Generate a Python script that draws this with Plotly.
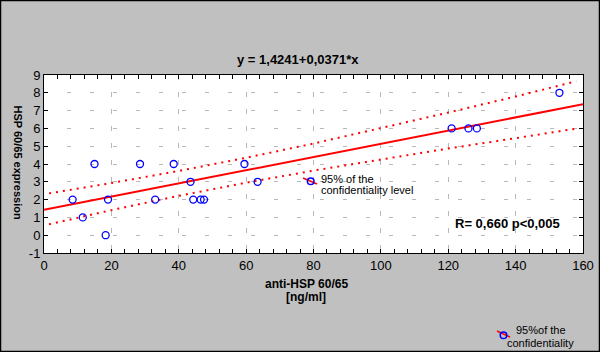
import plotly.graph_objects as go

# Data
anti_hsp = [8.5, 11.5, 15, 18.3, 19, 28.5, 33, 38.5, 43.5, 44.3, 46.5, 47.5,
            59.5, 63.4, 121, 126, 128.5, 153]
hsp_expr = [2, 1, 4, 0, 2, 4, 2, 4, 3, 2, 2, 2, 4, 3, 6, 6, 6, 8]

intercept = 1.4241
slope = 0.0371
fit_x = [0, 160]

ci_x = [1.5, 20, 40, 60, 80, 100, 120, 140, 158]
ci_upper = [2.35, 2.93, 3.61, 4.35, 5.15, 6.00, 6.89, 7.79, 8.65]
ci_lower = [0.61, 1.41, 2.21, 2.95, 3.63, 4.27, 4.87, 5.45, 5.99]

x_ticks = [0, 20, 40, 60, 80, 100, 120, 140, 160]
y_ticks = [-1, 0, 1, 2, 3, 4, 5, 6, 7, 8, 9]

W, H = 600, 352
L, R, T, B = 44, 17, 75, 99
PW, PH = W - L - R, H - T - B

def px(x):
    return (x - L) / PW

def py(y):
    return (H - B - y) / PH

fig = go.Figure()

fig.add_trace(go.Scatter(
    x=ci_x, y=ci_upper, mode="lines",
    line=dict(color="#FF0000", width=2, dash="2px,5px"),
    hoverinfo="skip", showlegend=False))
fig.add_trace(go.Scatter(
    x=ci_x, y=ci_lower, mode="lines",
    line=dict(color="#FF0000", width=2, dash="2px,5px"),
    hoverinfo="skip", showlegend=False))
fig.add_trace(go.Scatter(
    x=fit_x, y=[intercept + slope * v for v in fit_x], mode="lines",
    line=dict(color="#FF0000", width=2),
    showlegend=False))
fig.add_trace(go.Scatter(
    x=anti_hsp, y=hsp_expr, mode="markers",
    marker=dict(symbol="circle-open", size=7, color="#0000FF",
                line=dict(width=1.3, color="#0000FF")),
    showlegend=False))

font = "Liberation Sans, Arial, sans-serif"

fig.update_layout(
    width=W, height=H,
    margin=dict(l=L, r=R, t=T, b=B, pad=0, autoexpand=False),
    paper_bgcolor="#C0C0C0",
    plot_bgcolor="#FFFFFF",
    font=dict(family=font, size=13, color="#000000"),
    xaxis=dict(
        range=[0, 160], tickvals=x_ticks, ticktext=[str(v) for v in x_ticks],
        automargin=False,
        showline=True, linecolor="#000000", linewidth=1, mirror="ticks",
        ticks="inside", ticklen=4, tickcolor="#000000",
        minor=dict(dtick=4, ticks="inside", ticklen=4, tickcolor="#000000",
                   showgrid=False),
        showgrid=True, gridcolor="#B8B8B8", griddash="5px,12px", gridwidth=1,
        zeroline=False, tickfont=dict(size=13),
    ),
    yaxis=dict(
        range=[-1, 9], tickvals=y_ticks, ticktext=[str(v) for v in y_ticks],
        automargin=False,
        showline=True, linecolor="#000000", linewidth=1, mirror="ticks",
        ticks="inside", ticklen=4, tickcolor="#000000",
        showgrid=True, gridcolor="#B8B8B8", griddash="4px,19px", gridwidth=1,
        zeroline=False, tickfont=dict(size=13),
    ),
)

ann = [
    dict(text="<b>y = 1,4241+0,0371*x</b>", x=px(298), y=py(60), size=13),
    dict(text="<b>R= 0,660 p&lt;0,005</b>", x=px(507), y=py(223), size=13),
    dict(text="<b>anti-HSP 60/65</b>", x=px(306), y=py(284), size=12),
    dict(text="<b>[ng/ml]</b>", x=px(306), y=py(297), size=12),
]
for a in ann:
    fig.add_annotation(text=a["text"], x=a["x"], y=a["y"], xref="paper",
                       yref="paper", showarrow=False, xanchor="center",
                       yanchor="middle", font=dict(size=a["size"], family=font))

fig.add_annotation(text="<b>HSP 60/65 expression</b>", x=px(17.5), y=py(162),
                   xref="paper", yref="paper", showarrow=False, textangle=90,
                   xanchor="center", yanchor="middle",
                   font=dict(size=11, family=font))

notes = [
    ("95% of the", 319, 178.5),
    ("confidentiality level", 319, 190),
    ("95%of the", 514, 330),
    ("confidentiality", 505, 343),
]
for t, x0, y0 in notes:
    fig.add_annotation(text=t, x=px(x0), y=py(y0), xref="paper", yref="paper",
                       showarrow=False, xanchor="left", yanchor="middle",
                       font=dict(size=11, family=font))

# legend-like symbols (red line + blue circle)
for (x1, y1, x2, y2, cx, cy) in [(303, 178, 317, 184, 310.7, 181.3),
                                 (497, 331, 510, 337, 503.5, 335.3)]:
    fig.add_shape(type="line", xref="paper", yref="paper",
                  x0=px(x1), y0=py(y1), x1=px(x2), y1=py(y2),
                  line=dict(color="#FF0000", width=1.5))
    r = 3.3
    fig.add_shape(type="circle", xref="paper", yref="paper",
                  x0=px(cx - r), x1=px(cx + r), y0=py(cy + r), y1=py(cy - r),
                  line=dict(color="#0000FF", width=1.5))

# outer border
fig.add_shape(type="rect", xref="paper", yref="paper",
              x0=px(0.5), x1=px(599.5), y0=py(351.5), y1=py(0.5),
              line=dict(color="#000000", width=1.5), layer="above")

fig.write_html(
    "out.html",
    config={"displayModeBar": False},
    post_script="document.body.style.margin='0';document.body.style.overflow='hidden';",
)
